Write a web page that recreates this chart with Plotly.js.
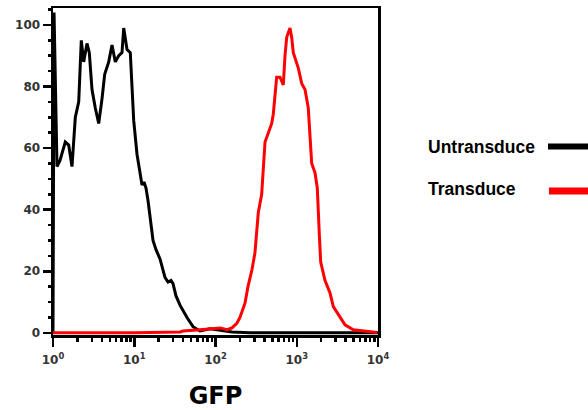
<!DOCTYPE html>
<html>
<head>
<meta charset="utf-8">
<script src="https://cdn.plot.ly/plotly-3.0.1.min.js"></script>
<style>html,body{margin:0;padding:0;background:#fff;}#chart{width:588px;height:410px;}</style>
</head>
<body>
<div id="chart"></div>
<script>
// Untransduced (black) histogram: GFP intensity and % of max
const untransGFP = [1.0, 1.03, 1.12, 1.22, 1.417, 1.561, 1.713, 1.882, 2.072, 2.23, 2.387, 2.512, 2.621, 2.798, 3.02, 3.316, 3.651, 4.009, 4.328, 4.849, 5.324, 5.846, 6.437, 7.068, 7.417, 8.144, 8.942, 9.383, 9.845, 10.81, 11.87, 12.46, 13.18, 13.95, 14.77, 17.02, 18.52, 20.75, 23.9, 26.03, 28.34, 29.99, 32.66, 36.57, 44.6, 52.85, 64.45, 74.3, 85.6, 104.3, 130.9, 159.6, 265.8, 1000, 10000];
const untransPct = [0, 104, 54, 56, 62, 61, 54, 70, 75, 95, 88, 92, 94, 91, 79, 73, 68, 76, 84, 88, 93.5, 88, 90, 91, 99, 92, 91, 80, 69, 58, 51, 48, 49, 47, 43, 30, 27, 24, 18, 16.5, 17, 16, 12, 9, 5, 2, 0.6, 1, 1.3, 1, 0.6, 0.3, 0, 0, 0];

// Transduced (red) histogram
const transGFP = [1.0, 10, 36.6, 39.8, 64.4, 113.6, 138.6, 159.6, 184, 200, 231, 251, 281, 306, 336, 370, 407, 446, 492, 514, 566, 622, 683, 717, 752, 826, 866, 907, 1045, 1150, 1264, 1387, 1456, 1528, 1678, 1791, 1896, 1972, 2228, 2565, 2818, 3245, 3926, 4966, 6920, 9720];
const transPct = [0, 0, 0.3, 0.6, 1, 1.6, 1, 1.6, 3.2, 5, 9.7, 15, 20.5, 26, 39, 45, 62, 65, 68, 71, 83, 83, 80.5, 90, 96, 99, 96, 91, 86, 81, 79, 73, 65, 55, 52, 47, 32, 23, 17, 13, 8.5, 6, 2.6, 1, 0.5, 0.1];

const seriesNames = ["Untransduce", "Transduce"];
const seriesColors = ["#000000", "#ff0000"];
const xTickVals = [1, 10, 100, 1000, 10000];
const xTickText = ["10<sup>0</sup>", "10<sup>1</sup>", "10<sup>2</sup>", "10<sup>3</sup>", "10<sup>4</sup>"];
const yTickVals = [0, 20, 40, 60, 80, 100];

const traces = [
  {x: untransGFP, y: untransPct, type: "scatter", mode: "lines", name: seriesNames[0],
   line: {color: seriesColors[0], width: 3}, showlegend: false},
  {x: transGFP, y: transPct, type: "scatter", mode: "lines", name: seriesNames[1],
   line: {color: seriesColors[1], width: 3}, showlegend: false}
];

const tickFont = {family: "DejaVu Sans, sans-serif", size: 12, color: "#333", weight: "bold"};
const legFont = {family: "Liberation Sans, Arial, sans-serif", size: 17.5, color: "#000", weight: "bold"};

const layout = {
  width: 588, height: 410,
  margin: {l: 53, r: 210, t: 8, b: 75},
  paper_bgcolor: "#fff", plot_bgcolor: "#fff",
  xaxis: {
    type: "log", range: [0, 4],
    tickvals: xTickVals, ticktext: xTickText,
    ticks: "outside", ticklen: 9, tickwidth: 2.5, tickcolor: "#000",
    ticklabelstandoff: 3,
    minor: {ticks: "outside", ticklen: 4, tickwidth: 2.5, tickcolor: "#000", dtick: "D1"},
    showline: true, linecolor: "#000", linewidth: 2.5, mirror: true,
    showgrid: false, zeroline: false, layer: "below traces",
    tickfont: tickFont,
    title: {text: "GFP", font: {family: "DejaVu Sans, sans-serif", size: 24, color: "#000", weight: "bold"}, standoff: 22}
  },
  yaxis: {
    range: [-0.7, 105.5],
    tickvals: yTickVals,
    ticks: "outside", ticklen: 8, tickwidth: 2.5, tickcolor: "#000",
    minor: {ticks: "outside", ticklen: 3, tickwidth: 2.5, tickcolor: "#000", dtick: 5},
    showline: true, linecolor: "#000", linewidth: 2.5, mirror: true,
    showgrid: false, zeroline: false, layer: "below traces",
    tickfont: tickFont
  },
  annotations: [
    {xref: "paper", yref: "paper", x: 1.148, y: 0.575, xanchor: "left", yanchor: "middle",
     text: seriesNames[0], showarrow: false, font: legFont},
    {xref: "paper", yref: "paper", x: 1.148, y: 0.4465, xanchor: "left", yanchor: "middle",
     text: seriesNames[1], showarrow: false, font: legFont}
  ],
  shapes: [
    {type: "line", xref: "paper", yref: "paper", x0: 1.523, x1: 1.66, y0: 0.5765, y1: 0.5765,
     line: {color: seriesColors[0], width: 6}},
    {type: "line", xref: "paper", yref: "paper", x0: 1.526, x1: 1.66, y0: 0.4404, y1: 0.4404,
     line: {color: seriesColors[1], width: 7}}
  ]
};

Plotly.newPlot("chart", traces, layout, {displayModeBar: false, staticPlot: true});
</script>
</body>
</html>
